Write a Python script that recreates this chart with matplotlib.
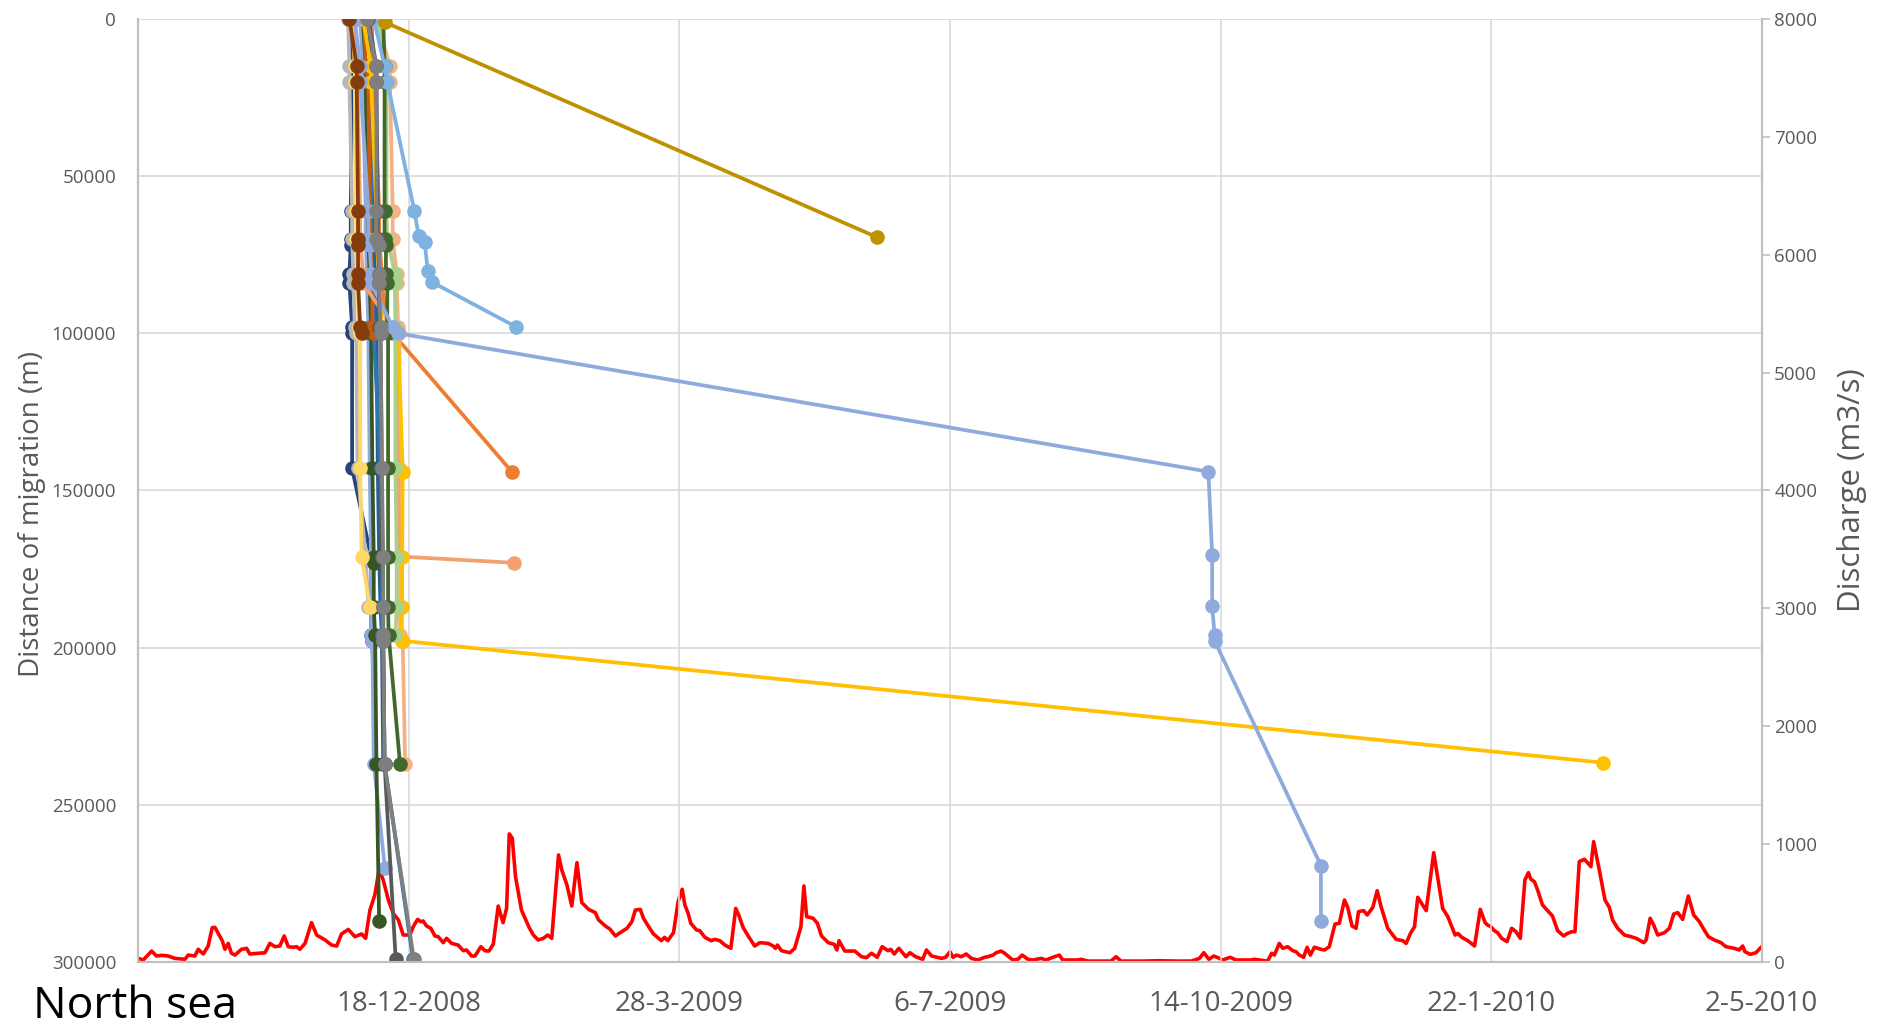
import numpy as np
import pandas as pd
import matplotlib
matplotlib.use('Agg')
import matplotlib.pyplot as plt
import matplotlib.dates as mdates

plt.rcParams['font.family'] = ['Open Sans', 'DejaVu Sans']

# all days counted from the first date on the axis
start_date = pd.Timestamp('2008-09-09')
end_date = pd.Timestamp('2010-05-02')

tick_labels = ['18-12-2008', '28-3-2009', '6-7-2009', '14-10-2009', '22-1-2010', '2-5-2010']
dist_ticks = [0, 50000, 100000, 150000, 200000, 250000, 300000]
discharge_ticks = [0, 1000, 2000, 3000, 4000, 5000, 6000, 7000, 8000]

# river discharge (m3/s)
discharge_day = [0, 1.8, 4.9, 6.7, 8.6, 11.0, 13.5, 17.2, 18.4, 20.9, 22.1, 24.0, 25.8, 27.3, 28.3, 29.5,
                 31.0, 32.0, 33.2, 34.4, 35.7, 38.1, 40.0, 41.2, 44.3, 46.8, 48.6, 50.5, 52.3, 53.9, 55.4,
                 57.2, 58.5, 59.7, 61.6, 64.0, 65.9, 69.0, 71.4, 73.3, 75.1, 77.6, 80.0, 82.5, 84.0, 85.6,
                 87.4, 89.0, 90.5, 92.4, 94.2, 96.1, 97.9, 100.4, 101.6, 103.2, 104.4, 105.3, 106.5, 108.1,
                 109.6, 110.8, 112.7, 113.9, 115.8, 118.2, 120.1, 121.3, 123.2, 124.4, 126.6, 128.1, 129.6,
                 131.2, 133.0, 134.8, 136.1, 137.1, 138.2, 139.4, 141.6, 144.4, 146.0, 147.8, 149.7, 151.3,
                 152.8, 155.3, 156.5, 158.4, 160.2, 162.1, 163.9, 166.4, 168.9, 170.1, 172.6, 174.4, 176.3,
                 178.1, 180.6, 182.4, 183.7, 185.5, 186.7, 188.6, 190.4, 193.3, 194.5, 195.7, 197.8, 199.5,
                 201.0, 202.0, 203.2, 204.2, 206.3, 207.5, 209.4, 211.8, 213.1, 214.9, 216.8, 219.0, 220.8,
                 221.9, 223.5, 225.4, 227.8, 229.7, 232.8, 234.6, 235.5, 236.2, 237.7, 240.8, 242.6, 244.9,
                 246.0, 247.0, 249.4, 251.0, 252.5, 255.0, 257.2, 258.2, 259.0, 261.1, 264.8, 267.3, 269.1,
                 271.0, 273.1, 274.9, 277.1, 278.1, 279.4, 281.1, 283.7, 285.2, 287.3, 289.9, 291.3, 293.2,
                 296.9, 298.4, 300.0, 301.1, 302.4, 304.2, 306.0, 307.9, 310.3, 312.8, 314.0, 315.9, 317.1,
                 318.9, 320.2, 323.2, 325.1, 326.7, 328.8, 330.6, 333.7, 335.5, 338.0, 340.4, 341.7, 347.2,
                 348.5, 350.9, 359.5, 361.4, 363.2, 371.9, 376.8, 384.2, 389.2, 392.2, 393.8, 395.7, 397.5,
                 399.6, 400.8, 403.6, 405.7, 411.3, 412.5, 417.4, 418.9, 419.9, 421.7, 423.0, 424.8, 426.7,
                 427.9, 429.1, 430.7, 432.0, 433.2, 434.7, 437.1, 438.4, 440.2, 442.3, 443.9, 445.8, 447.0,
                 448.6, 450.1, 451.0, 452.9, 454.2, 456.3, 457.9, 459.4, 461.8, 464.9, 467.4, 468.6, 470.2,
                 471.7, 472.9, 476.0, 478.8, 482.1, 484.0, 486.7, 487.7, 489.2, 491.4, 493.9, 496.0, 497.8,
                 498.7, 499.9, 501.2, 502.4, 503.9, 505.9, 507.6, 509.2, 510.8, 512.5, 513.8, 514.7, 516.0,
                 517.2, 519.0, 520.9, 522.7, 524.6, 526.8, 528.3, 529.8, 531.0, 532.6, 534.5, 536.9, 537.9,
                 540.0, 542.1, 543.7, 544.9, 546.8, 549.3, 551.7, 553.6, 555.2, 556.4, 557.3, 558.8, 560.1,
                 561.6, 564.1, 565.9, 567.5, 569.0, 570.8, 572.9, 574.9, 577.0, 578.2, 580.3, 582.5, 585.0,
                 586.8, 589.9, 591.7, 593.0, 593.8, 595.8, 597.9, 600.0]
discharge = [31, 17, 93, 51, 57, 51, 31, 23, 59, 51, 108, 68, 136, 291, 294, 243,
             181, 108, 158, 74, 59, 108, 116, 68, 74, 79, 158, 130, 136, 221, 130,
             125, 130, 108, 158, 334, 229, 187, 144, 136, 238, 277, 215, 238, 201, 441,
             569, 787, 696, 526, 413, 357, 229, 229, 300, 362, 342, 348, 306, 286,
             221, 215, 164, 201, 158, 144, 96, 102, 51, 51, 130, 96, 93,
             153, 475, 334, 455, 1087, 1050, 724, 441, 294, 229, 187, 201, 229,
             201, 908, 781, 654, 475, 843, 504, 447, 419, 357, 306, 277, 221,
             249, 286, 342, 441, 447, 371, 300, 238, 181, 209, 181, 249, 512,
             617, 484, 413, 328, 272, 266, 209, 181, 192, 181, 144, 116, 455,
             399, 294, 221, 136, 164, 158, 136, 116, 144, 96, 79, 116, 300,
             645, 385, 371, 328, 221, 164, 150, 102, 181, 93, 93, 45, 37,
             74, 40, 130, 96, 108, 68, 116, 45, 79, 45, 23, 102, 51,
             31, 40, 88, 40, 59, 45, 68, 31, 17, 40, 45, 59, 79,
             93, 74, 17, 23, 59, 23, 17, 31, 17, 40, 59, 17, 17,
             23, 8, 8, 45, 8, 8, 11, 8, 8, 31, 79, 23, 51,
             31, 17, 40, 17, 17, 23, 8, 74, 59, 158, 116, 130, 96,
             88, 59, 40, 125, 59, 125, 108, 102, 130, 322, 328, 526, 464,
             306, 286, 427, 436, 399, 464, 605, 464, 286, 192, 181, 158, 243,
             300, 549, 436, 928, 455, 385, 229, 243, 209, 181, 136, 447, 334,
             314, 300, 266, 249, 201, 173, 286, 257, 201, 696, 758, 702, 682,
             611, 484, 436, 390, 266, 221, 243, 257, 257, 852, 872, 809, 1021,
             781, 526, 464, 357, 286, 229, 215, 201, 181, 164, 187, 371, 314,
             229, 249, 286, 407, 419, 362, 560, 399, 342, 294, 215, 187, 164,
             130, 116, 102, 136, 88, 65, 79, 130]

# fish tracks: day of detection and distance from the sea (m)
navy_day = [78, 79, 79, 78.5, 78.5, 78.5, 78, 78, 79, 79, 79, 86, 86, 86, 86.5, 87.5]
navy_dist = [0, 15000, 20000, 61000, 70000, 72000, 81000, 84000, 98000, 100000, 143000, 171000, 187000, 196000, 198000, 237000]

ltgrey_day = [77.5, 78, 78, 79, 79, 79.5, 79.5, 80, 80.5, 81, 84, 85]
ltgrey_dist = [0, 15000, 20000, 61000, 70000, 81000, 84000, 98000, 100000, 143000, 171000, 187000]

dkblue_day = [85, 86, 86, 87, 87, 87.5, 87.5, 88, 88, 88.5, 89, 89.5, 90, 90.5]
dkblue_dist = [0, 15000, 20000, 61000, 70000, 81000, 84000, 98000, 100000, 143000, 171000, 187000, 196000, 237000]

peri2_day = [82, 83, 83, 84, 84, 84.5, 84.5, 85, 85, 85.5, 86, 86, 86, 86.5, 87, 91.1]
peri2_dist = [0, 15000, 20000, 61000, 70000, 81000, 84000, 98000, 100000, 143000, 171000, 187000, 196000, 198000, 237000, 270000]

dkgreen2_day = [83, 84, 84, 85, 85, 85.5, 85.5, 86, 86, 86.5, 87, 87, 87, 87.5, 88, 89]
dkgreen2_dist = [0, 15000, 20000, 61000, 70000, 81000, 84000, 98000, 100000, 143000, 171000, 173000, 187000, 196000, 237000, 287000]

blue_day = [86, 87, 87, 86, 86, 86.5, 86.5, 87, 87, 89.5, 90, 90, 90, 90.5, 91, 101.5]
blue_dist = [0, 15000, 20000, 61000, 70000, 81000, 84000, 98000, 100000, 143000, 171000, 187000, 196000, 198000, 237000, 299000]

rust_day = [83.5, 84, 85, 85.5, 86, 86, 86.5, 86.5, 87]
rust_dist = [0, 15000, 20000, 61000, 70000, 81000, 84000, 98000, 100000]

orange_day = [86, 87, 87, 89, 89, 90, 90, 92, 94, 138]
orange_dist = [0, 15000, 20000, 61000, 70000, 81000, 84000, 98000, 100000, 144000]

ltyellow_day = [79, 80, 80, 80.5, 80.5, 81, 81, 81.5, 82, 82, 82.5, 85.6]
ltyellow_dist = [0, 15000, 20000, 61000, 70000, 81000, 84000, 98000, 100000, 143000, 171000, 187000]

salmon2_day = [88, 93, 93, 94, 94, 95.5, 95.5, 96, 96.5, 96.5, 96.5, 96.6, 96.6, 97.7, 98.6]
salmon2_dist = [0, 15000, 20000, 61000, 70000, 81000, 84000, 98000, 100000, 143000, 171000, 187000, 196000, 198000, 237000]

salmon_day = [80, 81, 81, 82, 82, 83, 83, 94, 95, 96, 96.6, 138.8]
salmon_dist = [0, 15000, 20000, 61000, 70000, 81000, 84000, 98000, 100000, 143000, 171000, 173000]

gold_day = [83, 86, 86, 88, 88, 89, 89, 90, 96, 97.7, 97.5, 97.5, 97.3, 541.5]
gold_dist = [0, 15000, 20000, 61000, 70000, 81000, 84000, 98000, 100000, 144000, 171000, 187000, 197800, 236600]

ltgreen_day = [88.5, 91.7, 91.7, 91.7, 92, 94.8, 94.8, 95, 95, 95, 95.5, 95.5, 95]
ltgreen_dist = [0, 15000, 20000, 61000, 70000, 81000, 84000, 98000, 100000, 143000, 171000, 187000, 196000]

dkgreen_day = [90.5, 91, 91, 91, 91, 91.5, 91.5, 92, 92, 92.3, 92.3, 92.3, 92.3, 92.5, 96.7]
dkgreen_dist = [0, 15000, 20000, 61000, 70000, 72000, 81000, 84000, 98000, 100000, 143000, 171000, 187000, 196000, 237000]

peri_day = [80, 82, 82, 85, 85, 85.5, 86, 86, 94, 96, 395.5, 396.9, 396.9, 397.8, 397.8, 437.1, 437.1]
peri_dist = [0, 15000, 20000, 61000, 70000, 72000, 81000, 84000, 98000, 100000, 144000, 170500, 186700, 196000, 197800, 269300, 287000]

ltblue_day = [87, 91, 92, 102, 103.6, 105.8, 107, 108.5, 139.7]
ltblue_dist = [0, 15000, 20000, 61000, 69000, 71000, 80300, 83700, 98000]

dkgold_day = [91, 273.2]
dkgold_dist = [1000, 69500]

dkgrey_day = [85, 88, 88, 88.5, 88.5, 89, 89, 89, 89.5, 90, 90, 90.5, 90.5, 91, 95.1]
dkgrey_dist = [0, 15000, 20000, 61000, 70000, 81000, 84000, 98000, 100000, 143000, 171000, 187000, 196000, 237000, 299000]

brown_day = [78, 80.7, 80.7, 81.2, 81.2, 81.2, 81.2, 81.2, 82, 82.5]
brown_dist = [0, 15000, 20000, 61000, 70000, 72000, 81000, 84000, 98000, 100000]

grey_day = [84.4, 88, 88, 88, 88, 89, 89, 89, 89.5, 89.5, 90, 90.5, 90.5, 90.5, 90.5, 91, 101.8]
grey_dist = [0, 15000, 20000, 61000, 70000, 72000, 81000, 84000, 98000, 100000, 143000, 171000, 187000, 196000, 198000, 237000, 299000]

tracks = [
    (navy_day, navy_dist, '#264478'),
    (ltgrey_day, ltgrey_dist, '#B7B7B7'),
    (dkblue_day, dkblue_dist, '#255E91'),
    (peri2_day, peri2_dist, '#8FAADC'),
    (dkgreen2_day, dkgreen2_dist, '#375623'),
    (blue_day, blue_dist, '#2E75B6'),
    (rust_day, rust_dist, '#C55A11'),
    (orange_day, orange_dist, '#ED7D31'),
    (ltyellow_day, ltyellow_dist, '#FFD966'),
    (salmon2_day, salmon2_dist, '#F4B183'),
    (salmon_day, salmon_dist, '#F4A070'),
    (gold_day, gold_dist, '#FFC000'),
    (ltgreen_day, ltgreen_dist, '#A9D18E'),
    (dkgreen_day, dkgreen_dist, '#43682B'),
    (peri_day, peri_dist, '#8FAADC'),
    (ltblue_day, ltblue_dist, '#7FB2E0'),
    (dkgold_day, dkgold_dist, '#BF9000'),
    (dkgrey_day, dkgrey_dist, '#595959'),
    (brown_day, brown_dist, '#843C0C'),
    (grey_day, grey_dist, '#7F7F7F'),
]


def to_dates(days):
    return start_date + pd.to_timedelta(np.array(days, dtype=float), unit='D')


fig = plt.figure(figsize=(18.93, 10.30), dpi=100)
fig.subplots_adjust(left=0.0731, right=0.9306, top=0.9816, bottom=0.066)
ax = fig.add_subplot(111)
ax2 = ax.twinx()
ax.set_zorder(2)
ax2.set_zorder(1)
ax.patch.set_visible(False)

# discharge on the right axis
ax2.plot(to_dates(discharge_day), discharge, color='#FF0000', lw=2.6, solid_joinstyle='round')
ax2.set_ylim(0, 8000)
ax2.set_yticks(discharge_ticks)
ax2.tick_params(axis='y', labelsize=13.5, colors='#595959', length=6, width=1.2, color='#BFBFBF', pad=3)
ax2.set_ylabel('Discharge (m3/s)', fontsize=22.5, color='#595959', labelpad=14)

for d, dist, c in tracks:
    ax.plot(to_dates(d), dist, color=c, lw=2.7, marker='o', markersize=10.5, markeredgewidth=0)

ax.set_ylim(300000, 0)
ax.set_yticks(dist_ticks)
ax.set_yticklabels([str(v) for v in dist_ticks])
ax.set_xlim(start_date, end_date)
tick_dates = pd.to_datetime(tick_labels, format='%d-%m-%Y')
ax.set_xticks(mdates.date2num(tick_dates))
ax.set_xticklabels(tick_labels)
ax.tick_params(axis='x', labelsize=20, colors='#595959', length=0, pad=20)
ax.tick_params(axis='y', labelsize=13.5, colors='#595959', length=0, pad=16)
ax.set_ylabel('Distance of migration (m)', fontsize=20, color='#595959')
ax.yaxis.set_label_coords(-0.057, 0.475)

ax.grid(True, color='#D9D9D9', lw=1.2)
for a in (ax, ax2):
    a.spines['top'].set_visible(False)
    for s in ('left', 'right', 'bottom'):
        a.spines[s].set_color('#BFBFBF')
        a.spines[s].set_linewidth(1.5)

fig.text(0.0175, 0.012, 'North sea', fontsize=32, color='black', va='baseline', ha='left')

fig.savefig('out.png', dpi=100)
plt.close(fig)
